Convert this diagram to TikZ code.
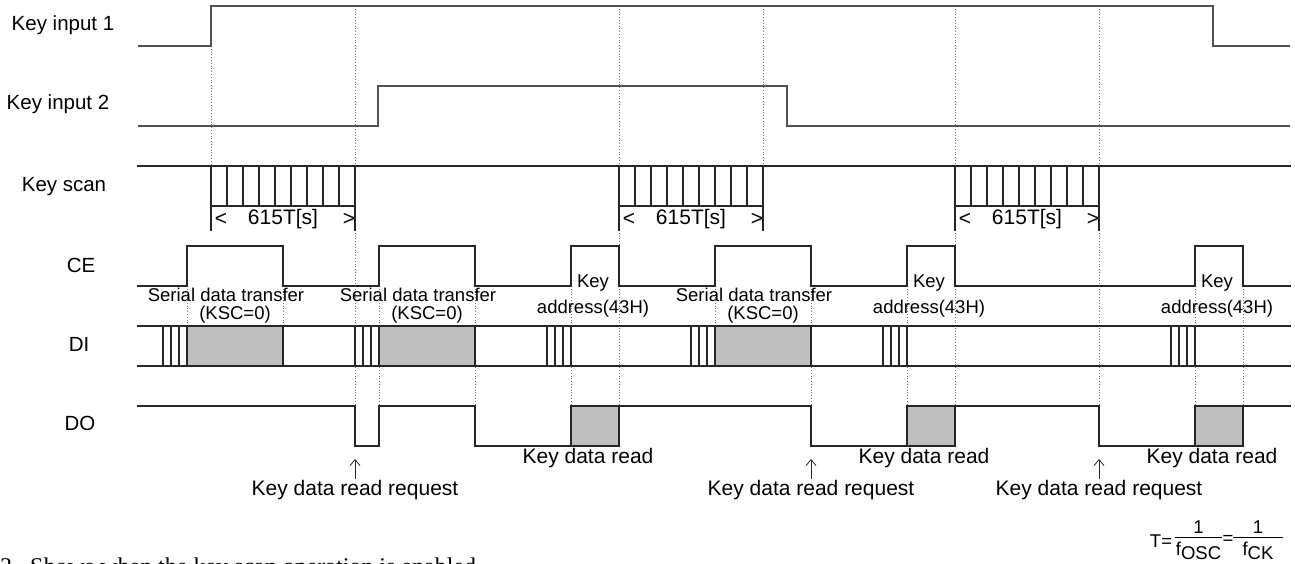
\documentclass[tikz,border=0pt]{standalone}
\usepackage{fontspec}
\setmainfont{Liberation Sans}
\newfontfamily\notefont{Liberation Serif}
\usetikzlibrary{arrows.meta}
\begin{document}
\begin{tikzpicture}[x=1pt,y=-1pt,
  sig/.style={line width=1.3pt, draw=black!85, line cap=rect},
  kin/.style={line width=2pt, draw=black!68},
  guide/.style={dotted, draw=black!55, line width=0.8pt},
  lab/.style={font=\fontsize{20.5}{22}\selectfont, inner sep=0},
  big/.style={font=\fontsize{21}{24}\selectfont, inner sep=0},
  small/.style={font=\fontsize{18.5}{20}\selectfont, inner sep=0},
  frm/.style={font=\fontsize{18.5}{20}\selectfont, inner sep=0},
  data/.style={fill=black!25, draw=black!85, line width=1.3pt},
  req/.style={-{Straight Barb[length=6pt,width=10pt]}, line width=0.8pt, draw=black!85}]

\useasboundingbox (0,0) rectangle (1295,564);

% dotted guide lines
\foreach \x/\a/\b in {211/46/166, 355/6/406, 187/286/326, 283/286/326,
  379/286/406, 475/286/406, 571/286/406, 619/6/406, 715/286/326,
  763/6/166, 811/286/406, 907/286/406, 955/6/406, 1099/6/406,
  1195/286/406, 1243/286/406}
  \draw[guide] (\x,\a) -- (\x,\b);

% signal labels
\node[lab] (lk1) at (63,25) {Key input 1};
\node[lab] (lk2) at (58,104) {Key input 2};
\node[lab] (lks) at (64,187) {Key scan};
\node[lab] (lce) at (81,265) {CE};
\node[lab] (ldi) at (79,344) {DI};
\node[lab] (ldo) at (80,423) {DO};

% key inputs
\draw[kin] (138,46) -- (211,46) -- (211,6) -- (1213,6) -- (1213,46) -- (1290,46);
\draw[kin] (138,126) -- (378,126) -- (378,86) -- (787,86) -- (787,126) -- (1290,126);

% key scan
\draw[sig] (138,166) -- (1290,166);
\foreach \s in {211,619,955} {
  \draw[sig] (\s,166) rectangle (\s+144,206);
  \foreach \k in {1,...,8} \draw[sig] (\s+16*\k,166) -- (\s+16*\k,206);
  \draw[sig] (\s,206) -- (\s,230);
  \draw[sig] (\s+144,206) -- (\s+144,230);
  \node[big] (lt\s) at (\s+10,219) {<};
  \node[big] (tt\s) at (\s+72,219) {615T[s]};
  \node[big] (gt\s) at (\s+138,219) {>};
}

% CE
\draw[sig] (138,286) -| (187,246) -| (283,286) -| (379,246) -| (475,286)
  -| (571,246) -| (619,286) -| (715,246) -| (811,286) -| (907,246)
  -| (955,286) -| (1195,246) -| (1243,286) -- (1290,286);

% DI
\draw[sig] (138,326) -- (1290,326);
\draw[sig] (138,366) -- (1290,366);
\foreach \a/\b in {187/283, 379/475, 715/811}
  \draw[data] (\a,326) rectangle (\b,366);
\foreach \p in {187,379,571,715,907,1195}
  \foreach \k in {0,8,16,24}
    \draw[sig] (\p-\k,326) -- (\p-\k,366);

% DO
\draw[data] (571,406) rectangle (619,446);
\draw[data] (907,406) rectangle (955,446);
\draw[data] (1195,406) rectangle (1243,446);
\draw[sig] (138,406) -- (355,406) -- (355,446) -- (379,446) -- (379,406)
  -- (475,406) -- (475,446) -- (571,446);
\draw[sig] (619,406) -- (811,406) -- (811,446) -- (907,446);
\draw[sig] (955,406) -- (1099,406) -- (1099,446) -- (1195,446);
\draw[sig] (1243,406) -- (1290,406);

% DI annotations
\foreach \n/\c in {1/235, 2/427, 3/763} {
  \node[small] (sdt\n) at (\c-9,295) {Serial data transfer};
  \node[small] (ksc\n) at (\c,315) {(KSC=0)};
}
\foreach \n/\c in {1/595, 2/931, 3/1219} {
  \node[small] (key\n) at (\c-2,283) {Key};
  \node[small] (adr\n) at (\c-2,309) {address(43H)};
  \node[big] (kdr\n) at (\c-7,458) {Key data read};
}

% key data read requests
\foreach \n/\x in {1/355, 2/811, 3/1099} {
  \node[big] (rq\n) at (\x,490) {Key data read request};
  \coordinate (tip\n) at (\x,459);
  \coordinate (base\n) at (\x,479);
  \draw[req] (base\n) -- (tip\n);
}

% formula
\node[frm] (teq) at (1161,541) {T=};
\draw[line width=0.8pt] (1175,537) -- (1222,537);
\node[frm, anchor=south] (n1) at (1198.5,534) {1};
\node[frm, anchor=north] (d1) at (1198.5,542) {f\raisebox{-4pt}{OSC}};
\node[frm] (eq2) at (1228,540) {=};
\draw[line width=0.8pt] (1233,537) -- (1283,537);
\node[frm, anchor=south] (n2) at (1258,534) {1};
\node[frm, anchor=north] (d2) at (1258,542) {f\raisebox{-4pt}{CK}};

% cut-off note at the bottom
\node[anchor=base west, inner sep=0, font=\notefont\fontsize{24}{26}\selectfont] (note) at (0,574)
  {3.\ \ Shows when the key scan operation is enabled.};
\end{tikzpicture}
\end{document}
